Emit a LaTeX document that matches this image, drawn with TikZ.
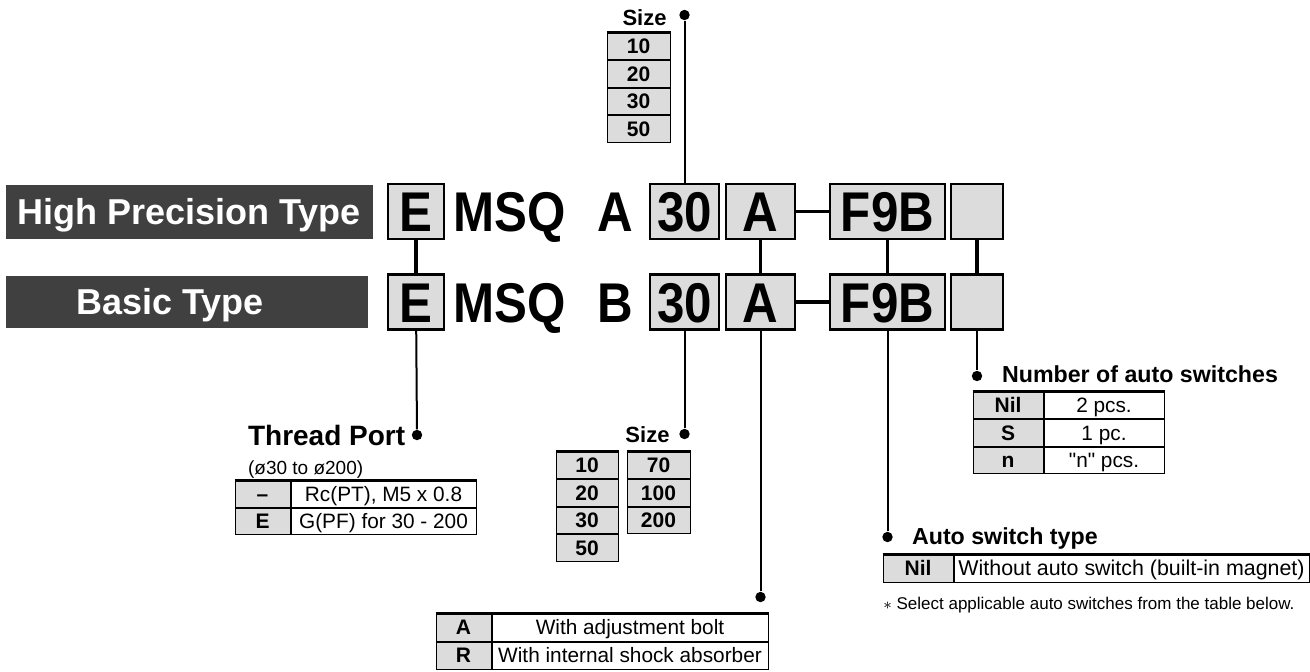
\documentclass[tikz,border=0pt]{standalone}
\usepackage{fontspec}
\setmainfont{Liberation Sans}
\newfontfamily\codefont{Liberation Sans}[FakeStretch=0.88]
\usetikzlibrary{positioning}

\definecolor{bargray}{RGB}{64,64,64}
\definecolor{boxgray}{RGB}{220,220,220}

\tikzset{
  codebox/.style={draw, line width=1.4pt, fill=boxgray, inner sep=0pt,
    font=\codefont\bfseries\fontsize{28}{30}\selectfont,
    minimum height=27.5pt, text height=20pt, text depth=0pt},
  codetext/.style={anchor=base, font=\codefont\bfseries\fontsize{28}{30}\selectfont},
  bartext/.style={text=white, font=\bfseries\fontsize{18}{20}\selectfont, text height=12.9pt, text depth=0pt},
  label/.style={anchor=base west, font=\bfseries\fontsize{11.6}{13}\selectfont},
  tabcell/.style={draw, line width=0.5pt, inner sep=0pt, text height=7.4pt, text depth=0pt},
  keycell/.style={tabcell, fill=boxgray, font=\bfseries\fontsize{10.5}{12}\selectfont},
  desccell/.style={tabcell, fill=white, font=\fontsize{10.4}{12}\selectfont},
  tabtop/.style={line width=1.1pt},
  link/.style={line width=1.6pt},
  lead/.style={line width=1pt},
  dot/.style={circle, fill=black, inner sep=0pt, minimum size=5.2pt}
}

\begin{document}
\begin{tikzpicture}[x=0.5pt, y=-0.5pt]
  \useasboundingbox (0,0) rectangle (1310,671);

  % Type bars
  \fill[bargray] (6,185) rectangle (373,239);
  \fill[bargray] (6,276) rectangle (368,328);
  \node[bartext] (hptext) at (189,212) {High Precision Type};
  \node[bartext] (bttext) at (170,302) {Basic Type};

  % Part number, upper row
  \node[codebox, minimum width=28pt] (ea) at (416,211.5) {E};
  \node[codetext] (msqa) at (509.5,231.5) {MSQ};
  \node[codetext] (typea) at (615,231.5) {A};
  \node[codebox, minimum width=34.5pt] (na) at (684.5,211.5) {30};
  \node[codebox, minimum width=34.5pt] (aa) at (760.5,211.5) {A};
  \node[codebox, minimum width=57.5pt] (fa) at (887.5,211.5) {F9B};
  \node[codebox, minimum width=26pt] (xa) at (977,211.5) {};

  % Part number, lower row
  \node[codebox, minimum width=28pt] (eb) at (416,302) {E};
  \node[codetext] (msqb) at (509.5,322) {MSQ};
  \node[codetext] (typeb) at (615,322) {B};
  \node[codebox, minimum width=34.5pt] (nb) at (684.5,302) {30};
  \node[codebox, minimum width=34.5pt] (ab) at (760.5,302) {A};
  \node[codebox, minimum width=57.5pt] (fb) at (887.5,302) {F9B};
  \node[codebox, minimum width=26pt] (xb) at (977,302) {};

  % Links between the rows
  \draw[link] (ea) -- (eb);
  \draw[link] (aa) -- (ab);
  \draw[link] (fa) -- (fb);
  \draw[link] (xa) -- (xb);
  \draw[link] (aa) -- (fa);
  \draw[link] (ab) -- (fb);

  % Size (upper)
  \node[anchor=base, font=\bfseries\fontsize{11}{13}\selectfont] (sizea) at (644.5,25) {Size};
  \node[dot] (dsizea) at (684.5,15) {};
  \draw[lead] (na) -- (dsizea);
  \node[keycell, minimum width=31.5pt, minimum height=13.25pt] (ts1) at (638.5,46.25) {10};
  \node[keycell, minimum width=31.5pt, minimum height=13.25pt, below=0pt of ts1] (ts2) {20};
  \node[keycell, minimum width=31.5pt, minimum height=13.25pt, below=0pt of ts2] (ts3) {30};
  \node[keycell, minimum width=31.5pt, minimum height=13.25pt, below=0pt of ts3] (ts4) {50};
  \draw[tabtop] (ts1.north west) -- (ts1.north east);

  % Thread port
  \node[label, font=\bfseries\fontsize{14}{16}\selectfont] (port) at (241,445) {Thread Port};
  \node[anchor=base west, font=\fontsize{9.5}{11}\selectfont] (portnote) at (241,474) {(ø30 to ø200)};
  \node[dot] (dport) at (417,435) {};
  \draw[lead] (eb) -- (dport);
  \node[keycell, minimum width=27.5pt, minimum height=13pt] (tp1) at (262.5,494) {–};
  \node[desccell, minimum width=92.5pt, minimum height=13pt, right=0pt of tp1] (tp1d) {Rc(PT), M5 x 0.8};
  \node[keycell, minimum width=27.5pt, minimum height=13pt, below=0pt of tp1] (tp2) {E};
  \node[desccell, minimum width=92.5pt, minimum height=13pt, right=0pt of tp2] (tp2d) {G(PF) for 30 - 200};
  \draw[tabtop] (tp1.north west) -- (tp1d.north east);

  % Size (lower)
  \node[anchor=base, font=\bfseries\fontsize{11}{13}\selectfont] (sizeb) at (647.5,442) {Size};
  \node[dot] (dsizeb) at (684.5,434) {};
  \draw[lead] (nb) -- (dsizeb);
  \node[keycell, minimum width=31pt, minimum height=13.25pt] (bs1) at (587,465.25) {10};
  \node[keycell, minimum width=31pt, minimum height=13.25pt, below=0pt of bs1] (bs2) {20};
  \node[keycell, minimum width=31pt, minimum height=13.25pt, below=0pt of bs2] (bs3) {30};
  \node[keycell, minimum width=31pt, minimum height=13.25pt, below=0pt of bs3] (bs4) {50};
  \node[keycell, minimum width=31.5pt, minimum height=13.25pt] (bs5) at (658.5,465.25) {70};
  \node[keycell, minimum width=31.5pt, minimum height=13.25pt, below=0pt of bs5] (bs6) {100};
  \node[keycell, minimum width=31.5pt, minimum height=13.25pt, below=0pt of bs6] (bs7) {200};
  \draw[tabtop] (bs1.north west) -- (bs1.north east);
  \draw[tabtop] (bs5.north west) -- (bs5.north east);

  % Stroke adjustment
  \node[dot] (dstop) at (760.5,597) {};
  \draw[lead] (ab) -- (dstop);
  \node[keycell, minimum width=27.5pt, minimum height=13.5pt] (ta1) at (463.5,627.5) {A};
  \node[desccell, minimum width=138pt, minimum height=13.5pt, right=0pt of ta1] (ta1d) {With adjustment bolt};
  \node[keycell, minimum width=27.5pt, minimum height=13.5pt, below=0pt of ta1] (ta2) {R};
  \node[desccell, minimum width=138pt, minimum height=13.5pt, right=0pt of ta2] (ta2d) {With internal shock absorber};
  \draw[tabtop] (ta1.north west) -- (ta1d.north east);

  % Number of auto switches
  \node[label] (numsw) at (995,382) {Number of auto switches};
  \node[dot] (dnum) at (977,376) {};
  \draw[lead] (xb) -- (dnum);
  \node[keycell, minimum width=35pt, minimum height=13.3pt] (tn1) at (1008,405.3) {Nil};
  \node[desccell, minimum width=60pt, minimum height=13.3pt, right=0pt of tn1] (tn1d) {2 pcs.};
  \node[keycell, minimum width=35pt, minimum height=13.3pt, below=0pt of tn1] (tn2) {S};
  \node[desccell, minimum width=60pt, minimum height=13.3pt, right=0pt of tn2] (tn2d) {1 pc.};
  \node[keycell, minimum width=35pt, minimum height=13.3pt, below=0pt of tn2] (tn3) {n};
  \node[desccell, minimum width=60pt, minimum height=13.3pt, right=0pt of tn3] (tn3d) {\textquotedbl n\textquotedbl\ pcs.};
  \draw[tabtop] (tn1.north west) -- (tn1d.north east);

  % Auto switch type
  \node[label] (swtype) at (905,544) {Auto switch type};
  \node[dot] (dsw) at (887.5,537) {};
  \draw[lead] (fb) -- (dsw);
  \node[keycell, minimum width=35pt, minimum height=13.5pt] (tw1) at (918,568.5) {Nil};
  \node[desccell, minimum width=177.5pt, minimum height=13.5pt, right=0pt of tw1, font=\fontsize{10.7}{12}\selectfont] (tw1d) {Without auto switch (built-in magnet)};
  \draw[tabtop] (tw1.north west) -- (tw1d.north east);
  \node[anchor=base west, font=\fontsize{8.5}{10}\selectfont, inner xsep=0pt] (swnote) at (883,609) {$\ast$ Select applicable auto switches from the table below.};

\end{tikzpicture}
\end{document}
